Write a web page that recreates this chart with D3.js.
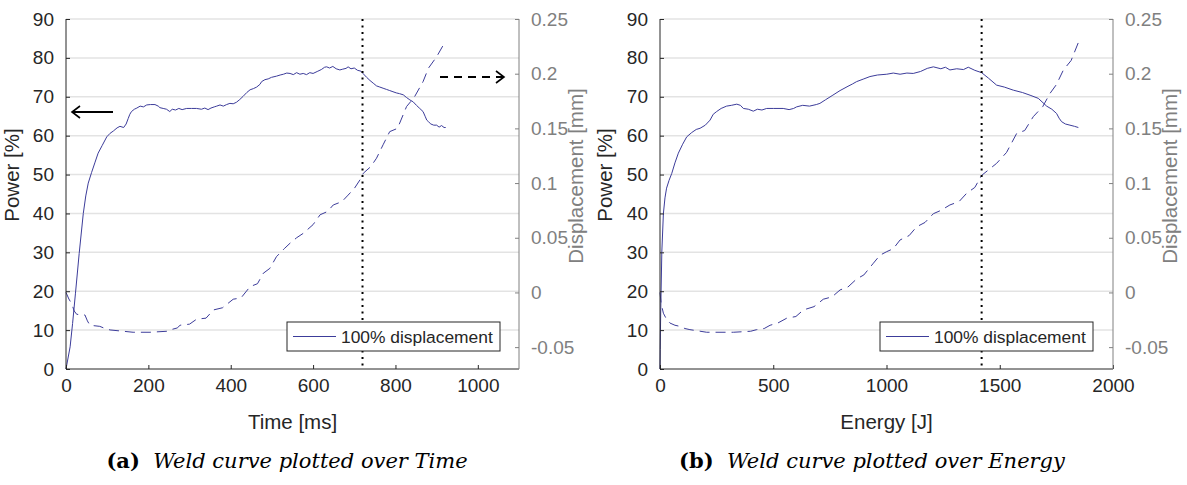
<!DOCTYPE html>
<html>
<head>
<meta charset="utf-8">
<script src="https://cdn.jsdelivr.net/npm/d3@7"></script>
<style>
  body { margin: 0; background: #fff; }
  svg { display: block; }
</style>
</head>
<body>
<svg id="chart" width="1187" height="485"></svg>
<script>
// power over time [ms, %]
const timePow = [0, 10, 16, 23, 32, 42, 48, 54, 62, 70, 78, 88, 99, 107, 115, 124, 131, 140, 146, 151, 155, 159, 166, 172, 180, 188, 196, 205, 216, 224, 228, 236, 244, 252, 258, 266, 274, 282, 293, 305, 317, 329, 337, 345, 352, 360, 366, 374, 382, 390, 398, 406, 414, 422, 430, 439, 447, 455, 463, 471, 475, 483, 491, 499, 511, 520, 528, 536, 544, 552, 560, 568, 576, 584, 592, 600, 610, 620, 628, 633, 640, 648, 656, 665, 672, 680, 685, 692, 700, 708, 716, 722, 730, 738, 746, 754, 762, 770, 778, 786, 794, 802, 810, 819, 827, 835, 843, 851, 859, 867, 872, 876, 880, 886, 893, 900, 906, 912, 918, 922]
const powT = [0, 5.7, 11.7, 19.5, 29.7, 40, 44.5, 47.8, 50.5, 53, 55.5, 57.5, 59.7, 60.6, 61.2, 62.0, 62.4, 62.1, 63.0, 64.4, 65.5, 66.2, 66.8, 67.1, 67.6, 67.4, 67.9, 68.0, 68.0, 67.6, 67.2, 67.0, 66.8, 66.2, 66.8, 66.6, 67.0, 66.7, 67.0, 67.0, 67.0, 66.8, 67.1, 66.7, 67.1, 67.4, 67.6, 67.9, 67.6, 68.0, 68.3, 68.2, 68.6, 69.3, 70.1, 71.1, 71.8, 72.1, 72.5, 73.2, 73.9, 74.4, 74.6, 75.0, 75.3, 75.6, 75.8, 76.1, 76.0, 75.7, 76.2, 75.8, 76.0, 75.7, 76.2, 76.0, 76.5, 77.0, 77.6, 77.7, 77.4, 77.8, 77.2, 76.9, 77.1, 77.3, 77.7, 77.2, 77.4, 76.8, 76.6, 75.9, 75.0, 74.2, 73.5, 72.8, 72.5, 72.2, 71.9, 71.6, 71.3, 71.0, 70.8, 70.5, 69.8, 69.2, 68.7, 67.8, 67.0, 66.2, 65.0, 64.0, 63.6, 63.0, 62.7, 62.7, 62.2, 62.6, 62.1, 62.1]

// displacement over time [ms, mm]
const timeDisp = [0, 7, 14, 20, 26, 46, 52, 58, 82, 95, 107, 163, 204, 245, 252, 270, 277, 300, 317, 340, 358, 380, 406, 425, 447, 465, 479, 495, 511, 530, 544, 560, 576, 600, 617, 635, 649, 670, 685, 700, 714, 722, 740, 754, 770, 786, 805, 827, 845, 867, 880, 900, 922]
const dispT = [0, -0.006, -0.0105, -0.017, -0.020, -0.0206, -0.026, -0.030, -0.031, -0.033, -0.0343, -0.0364, -0.0364, -0.0355, -0.0343, -0.0325, -0.030, -0.029, -0.0245, -0.0235, -0.016, -0.014, -0.0062, -0.005, 0.0053, 0.008, 0.0175, 0.022, 0.0327, 0.040, 0.045, 0.050, 0.054, 0.062, 0.071, 0.074, 0.080, 0.083, 0.089, 0.095, 0.103, 0.109, 0.115, 0.1227, 0.135, 0.147, 0.150, 0.170, 0.178, 0.1927, 0.205, 0.2155, 0.230]

// power over energy [J, %]
const energyPow = [0, 1, 3, 8, 15, 22, 29, 40, 52, 66, 81, 100, 118, 140, 160, 177, 200, 221, 235, 250, 270, 294, 315, 339, 355, 368, 390, 412, 430, 450, 471, 500, 544, 570, 590, 603, 630, 660, 690, 706, 730, 760, 795, 830, 850, 868, 900, 927, 960, 1001, 1030, 1060, 1090, 1118, 1150, 1180, 1207, 1240, 1260, 1280, 1310, 1340, 1361, 1390, 1420, 1450, 1486, 1520, 1560, 1600, 1634, 1670, 1707, 1730, 1751, 1762, 1773, 1790, 1810, 1830, 1847]
const powE = [0, 5, 14.4, 30, 40, 44, 46.5, 48.5, 50.3, 53, 55.5, 57.8, 59.7, 60.8, 61.6, 61.9, 62.7, 64, 65.5, 66.2, 67.0, 67.6, 67.8, 68.1, 67.8, 67.0, 66.8, 66.3, 66.8, 66.6, 67.0, 67.0, 67.0, 66.7, 67.0, 67.4, 67.8, 67.6, 68.0, 68.3, 69.2, 70.3, 71.6, 72.7, 73.3, 73.9, 74.6, 75.2, 75.6, 75.8, 76.1, 75.8, 76.1, 76.0, 76.5, 77.3, 77.7, 77.2, 77.6, 76.9, 77.2, 77.0, 77.6, 76.8, 76.2, 74.8, 73.0, 72.5, 71.7, 71.1, 70.4, 69.6, 67.6, 66.8, 65.7, 64.5, 63.6, 63.0, 62.7, 62.4, 62.1]

// displacement over energy [J, mm]
const energyDisp = [0, 5, 15, 30, 44, 66, 88, 110, 132, 206, 324, 400, 427, 460, 486, 520, 559, 600, 633, 680, 721, 760, 795, 830, 868, 900, 942, 971, 1001, 1030, 1060, 1100, 1133, 1170, 1207, 1240, 1280, 1320, 1354, 1390, 1420, 1486, 1530, 1575, 1610, 1648, 1690, 1722, 1750, 1781, 1815, 1850]
const dispE = [0, -0.010, -0.019, -0.025, -0.028, -0.030, -0.031, -0.033, -0.034, -0.0364, -0.0364, -0.0355, -0.034, -0.033, -0.030, -0.028, -0.0236, -0.022, -0.016, -0.013, -0.0062, -0.004, 0.0023, 0.005, 0.0123, 0.016, 0.0267, 0.034, 0.0373, 0.040, 0.048, 0.052, 0.060, 0.064, 0.072, 0.075, 0.080, 0.083, 0.0907, 0.096, 0.107, 0.118, 0.128, 0.1455, 0.148, 0.1607, 0.170, 0.182, 0.190, 0.2034, 0.212, 0.230]

const powTicks = [0, 10, 20, 30, 40, 50, 60, 70, 80, 90]
const dispTicks = [-0.05, 0, 0.05, 0.1, 0.15, 0.2, 0.25]
const timeTicks = [0, 200, 400, 600, 800, 1000]
const energyTicks = [0, 500, 1000, 1500, 2000]
const legendLabel = '100% displacement'

const lineColor = '#3c3c9a'
const axisColor = '#262626'
const rightColor = '#808080'
const gridColor = '#e3e3e3'
const sans = 'Liberation Sans, Arial, sans-serif'

const svg = d3.select('#chart')

function drawPanel (opts) {
    let g = svg.append('g').attr('transform', 'translate(' + opts.left + ',0)')
    let w = 453
    let top = 19
    let bottom = 369

    let x = d3.scaleLinear().domain(opts.xDomain).range([0, w])
    let yL = d3.scaleLinear().domain([0, 90]).range([bottom, top])
    let yR = d3.scaleLinear().domain([-0.07, 0.25]).range([bottom, top])

    // grid
    g.append('g').selectAll('line')
        .data(powTicks.filter(d => d > 0))
        .enter()
        .append('line')
        .attr('x1', 0)
        .attr('x2', w)
        .attr('y1', d => yL(d))
        .attr('y2', d => yL(d))
        .attr('stroke', gridColor)
        .attr('stroke-width', 1.5)

    // curves
    let powLine = d3.line().x(d => x(d[0])).y(d => yL(d[1]))
    let dispLine = d3.line().x(d => x(d[0])).y(d => yR(d[1]))
    g.append('path')
        .datum(opts.xPow.map((v, i) => [v, opts.pow[i]]))
        .attr('d', powLine)
        .attr('fill', 'none')
        .attr('stroke', lineColor)
        .attr('stroke-width', 1)
    g.append('path')
        .datum(opts.xDisp.map((v, i) => [v, opts.disp[i]]))
        .attr('d', dispLine)
        .attr('fill', 'none')
        .attr('stroke', lineColor)
        .attr('stroke-width', 1)
        .attr('stroke-dasharray', '10,6')

    // dotted marker line
    g.append('line')
        .attr('x1', x(opts.marker))
        .attr('x2', x(opts.marker))
        .attr('y1', top)
        .attr('y2', bottom)
        .attr('stroke', '#000')
        .attr('stroke-width', 2)
        .attr('stroke-dasharray', '2,4.5')

    // axes
    let fmtInt = d => String(d)
    let axL = g.append('g').call(d3.axisLeft(yL).tickValues(powTicks).tickSizeInner(-4).tickSizeOuter(0).tickPadding(12))
    let axB = g.append('g').attr('transform', 'translate(0,' + bottom + ')')
        .call(d3.axisBottom(x).tickValues(opts.xTicks).tickFormat(fmtInt).tickSizeInner(-4).tickSizeOuter(0).tickPadding(10))
    let axR = g.append('g').attr('transform', 'translate(' + w + ',0)')
        .call(d3.axisRight(yR).tickValues(dispTicks).tickSizeInner(-4).tickSizeOuter(0).tickPadding(12).tickFormat(d => String(+d.toFixed(2))))
    ;[axL, axB].forEach(a => {
        a.selectAll('path, line').attr('stroke', axisColor)
        a.selectAll('text').attr('fill', axisColor).style('font-family', sans).style('font-size', '19px')
    })
    axR.selectAll('path, line').attr('stroke', rightColor)
    axR.selectAll('text').attr('fill', rightColor).style('font-family', sans).style('font-size', '19px')
    axB.select('path').attr('d', 'M0,0H' + w)
    axL.select('path').attr('d', 'M0,' + bottom + 'V' + top)
    axR.select('path').attr('d', 'M0,' + bottom + 'V' + top)

    // axis titles
    g.append('text')
        .text(opts.xLabel)
        .attr('x', w / 2)
        .attr('y', 429)
        .attr('text-anchor', 'middle')
        .attr('fill', axisColor)
        .style('font-family', sans)
        .style('font-size', '20.5px')
    g.append('text')
        .text('Power [%]')
        .attr('transform', 'translate(' + opts.yLabelX + ',175) rotate(-90)')
        .attr('text-anchor', 'middle')
        .attr('fill', axisColor)
        .style('font-family', sans)
        .style('font-size', '20.5px')
    g.append('text')
        .text('Displacement [mm]')
        .attr('transform', 'translate(' + (w + 64) + ',176) rotate(-90)')
        .attr('text-anchor', 'middle')
        .attr('fill', rightColor)
        .style('font-family', sans)
        .style('font-size', '20.5px')

    // legend
    let leg = g.append('g').attr('transform', 'translate(' + opts.legendX + ',322)')
    leg.append('rect')
        .attr('width', 213)
        .attr('height', 29)
        .attr('fill', '#fff')
        .attr('stroke', axisColor)
        .attr('stroke-width', 1)
    leg.append('line')
        .attr('x1', 6)
        .attr('x2', 49)
        .attr('y1', 14.5)
        .attr('y2', 14.5)
        .attr('stroke', lineColor)
        .attr('stroke-width', 1)
    leg.append('text')
        .text(legendLabel)
        .attr('x', 54)
        .attr('y', 20.5)
        .attr('fill', axisColor)
        .style('font-family', sans)
        .style('font-size', '17.4px')

    // caption
    let cap = g.append('text')
        .attr('x', opts.captionX)
        .attr('y', 468)
        .attr('text-anchor', 'middle')
        .attr('fill', '#000')
        .style('font-family', 'DejaVu Serif, serif')
        .style('font-size', '21px')
    cap.append('tspan').text(opts.captionTag).style('font-weight', 'bold')
    cap.append('tspan').text('\u00a0 ' + opts.caption).style('font-style', 'italic')

    return { g, x, yL, w }
}

let a = drawPanel({
    left: 66,
    xDomain: [0, 1100],
    xTicks: timeTicks,
    xPow: timePow, pow: powT,
    xDisp: timeDisp, disp: dispT,
    marker: 720,
    xLabel: 'Time [ms]',
    yLabelX: -47,
    legendX: 221,
    captionX: 221,
    captionTag: '(a)',
    caption: 'Weld curve plotted over Time'
})

drawPanel({
    left: 660,
    xDomain: [0, 2000],
    xTicks: energyTicks,
    xPow: energyPow, pow: powE,
    xDisp: energyDisp, disp: dispE,
    marker: 1420,
    xLabel: 'Energy [J]',
    yLabelX: -48,
    legendX: 220,
    captionX: 212,
    captionTag: '(b)',
    caption: 'Weld curve plotted over Energy'
})

// annotation arrows on the time panel
function arrow (g, x1, x2, y, dash) {
    let dir = x2 > x1 ? 1 : -1
    g.append('line')
        .attr('x1', x1).attr('x2', x2).attr('y1', y).attr('y2', y)
        .attr('stroke', '#000').attr('stroke-width', 2)
        .attr('stroke-dasharray', dash ? '8,6' : null)
    g.append('path')
        .attr('d', 'M' + (x2 - dir * 8) + ',' + (y - 6) + 'L' + x2 + ',' + y + 'L' + (x2 - dir * 8) + ',' + (y + 6))
        .attr('fill', 'none').attr('stroke', '#000').attr('stroke-width', 1.6)
}
arrow(a.g, 47, 6, 112, false)
arrow(a.g, 374, 438, 77, true)
</script>
</body>
</html>
